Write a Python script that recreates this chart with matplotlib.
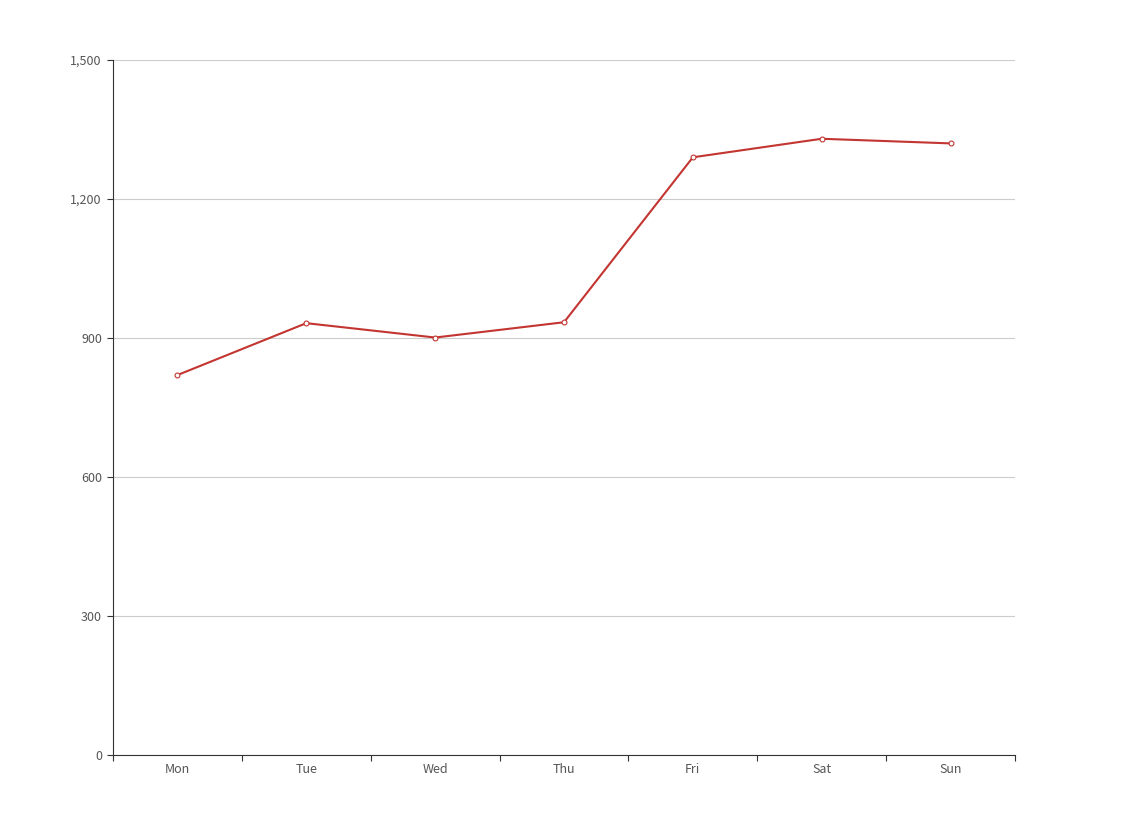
import numpy as np
import matplotlib
matplotlib.use("Agg")
import matplotlib.pyplot as plt
from matplotlib.ticker import FuncFormatter, FixedLocator

plt.rcParams['font.family'] = ['Noto Sans CJK SC', 'DejaVu Sans']

days = ['Mon', 'Tue', 'Wed', 'Thu', 'Fri', 'Sat', 'Sun']
values = [820, 932, 901, 934, 1290, 1330, 1320]
y_ticks = [0, 300, 600, 900, 1200, 1500]

line_color = '#c23531'
axis_color = '#333333'

fig = plt.figure(figsize=(11.28, 8.15), dpi=100)
ax = fig.add_axes([113 / 1128, 60 / 815, 902 / 1128, 695 / 815])

x = np.arange(len(days)) + 0.5
ax.plot(x, values, color=line_color, lw=1.5, marker='o', markersize=3.5,
        markerfacecolor='white', markeredgecolor=line_color, markeredgewidth=0.8,
        zorder=3)

ax.set_xlim(0, len(days))
ax.set_ylim(0, 1500)

# y axis
ax.set_yticks(y_ticks)
ax.yaxis.set_major_formatter(FuncFormatter(lambda v, p: f'{int(v):,}'))
ax.grid(axis='y', color='#cccccc', lw=0.8)
ax.set_axisbelow(True)

# x axis: ticks at boundaries, labels at centers
ax.xaxis.set_major_locator(FixedLocator(np.arange(len(days) + 1)))
ax.xaxis.set_minor_locator(FixedLocator(x))
ax.set_xticklabels([''] * (len(days) + 1))
ax.set_xticklabels(days, minor=True)
ax.tick_params(axis='x', which='major', length=4, color=axis_color, width=0.8)
ax.tick_params(axis='x', which='minor', length=0, pad=6, labelsize=9, labelcolor='#555555')
ax.tick_params(axis='y', length=4, color=axis_color, width=0.8, pad=4,
               labelsize=9, labelcolor='#555555')

for s in ['top', 'right']:
    ax.spines[s].set_visible(False)
for s in ['left', 'bottom']:
    ax.spines[s].set_color(axis_color)
    ax.spines[s].set_linewidth(0.8)

fig.savefig('out.png', dpi=100)
